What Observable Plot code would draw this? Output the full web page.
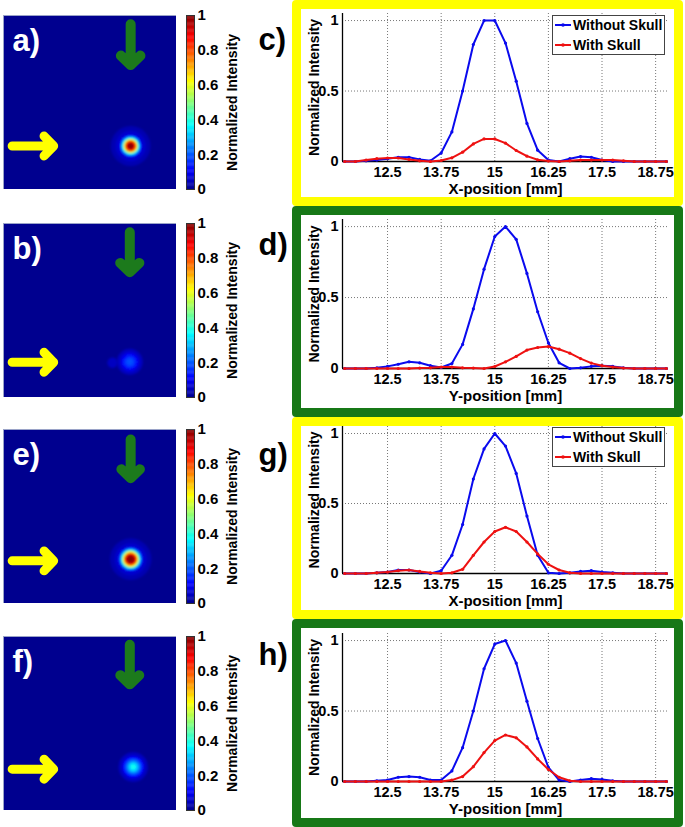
<!DOCTYPE html>
<html><head><meta charset="utf-8">
<script src="https://cdn.jsdelivr.net/npm/d3@7"></script>
<script src="https://cdn.jsdelivr.net/npm/@observablehq/plot@0.6"></script>
<style>
body{margin:0;background:#fff;font-family:"Liberation Sans",Arial,sans-serif;}
#root{position:relative;width:685px;height:827px;overflow:hidden;background:#fff;}
.frame{position:absolute;box-sizing:border-box;border-radius:4px;pointer-events:none;z-index:5;}
.legend{position:absolute;box-sizing:border-box;background:#fff;border:1px solid #444;font:bold 14px "Liberation Sans",Arial,sans-serif;z-index:6;}
</style></head><body><div id="root"></div><script>
// ---------- data ----------
const positions = [11.5,11.75,12,12.25,12.5,12.75,13,13.25,13.5,13.75,14,14.25,14.5,14.75,15,15.25,15.5,15.75,16,16.25,16.5,16.75,17,17.25,17.5,17.75,18,18.25,18.5,18.75,19];
const xTicks = [12.5, 13.75, 15, 16.25, 17.5, 18.75];
const yTicks = [0, 0.5, 1];
const colorbarTicks = [0, 0.2, 0.4, 0.6, 0.8, 1];
const seriesNames = ["Without Skull", "With Skull"];
const seriesColors = ["#0a0aee", "#ee1111"];

const cWithout = [0,0,0.005,0.01,0.02,0.03,0.03,0.015,0.005,0.06,0.21,0.50,0.83,1.0,1.0,0.84,0.57,0.27,0.08,0.01,0,0.02,0.035,0.03,0.01,0,0,0,0,0,0];
const cWith    = [0,0,0.01,0.02,0.025,0.025,0.015,0.005,0,0.007,0.026,0.066,0.125,0.16,0.16,0.13,0.078,0.038,0.012,0.003,0,0.005,0.01,0.01,0.01,0.01,0.005,0,0,0,0];
const dWithout = [0,0,0,0.005,0.015,0.03,0.047,0.04,0.02,0.007,0.035,0.17,0.42,0.70,0.93,1.0,0.91,0.67,0.40,0.18,0.04,0,0.005,0.015,0.02,0.015,0.005,0,0,0,0];
const dWith    = [0,0,0,0,0,0,0,0.003,0.005,0.01,0.01,0.005,0.003,0,0.014,0.047,0.085,0.13,0.148,0.155,0.136,0.108,0.07,0.038,0.02,0.01,0.003,0,0,0,0];
const gWithout = [0,0,0,0.005,0.01,0.025,0.025,0.01,0,0.02,0.13,0.35,0.675,0.89,1.0,0.91,0.715,0.41,0.13,0.005,0,0.005,0.015,0.02,0.01,0.005,0,0,0,0,0];
const gWith    = [0,0,0,0.005,0.01,0.02,0.025,0.015,0.005,0,0.005,0.03,0.13,0.225,0.30,0.33,0.30,0.225,0.14,0.066,0.025,0.005,0,0,0,0,0,0,0,0,0];
const hWithout = [0,0,0,0.005,0.01,0.03,0.035,0.03,0.01,0.01,0.075,0.24,0.50,0.80,0.975,1.0,0.84,0.57,0.305,0.10,0.01,0,0.01,0.02,0.015,0.005,0,0,0,0,0];
const hWith    = [0,0,0,0,0,0,0,0,0,0,0.01,0.035,0.105,0.205,0.29,0.33,0.31,0.245,0.16,0.085,0.03,0.005,0,0,0,0,0,0,0,0,0];

// heat-map spots: centre (mm) and radial intensity profile (radius mm, value)
const spotA = {x: 14.7, y: 15.0, rings: [[2.3,0.035],[1.75,0.06],[1.3,0.14],[1.1,0.3],[0.95,0.42],[0.82,0.6],[0.7,0.75],[0.55,0.88],[0.4,0.96],[0.22,1.0]]};
const spotB = {x: 14.6, y: 15.9, rings: [[1.5,0.05],[1.1,0.09],[0.85,0.13],[0.6,0.17],[0.35,0.19]]};
const spotBFaint = {x: 12.6, y: 16.0, rings: [[0.6,0.05]]};
const spotE = {x: 14.7, y: 14.9, rings: [[2.4,0.035],[1.85,0.06],[1.4,0.15],[1.2,0.3],[1.05,0.45],[0.9,0.62],[0.77,0.78],[0.62,0.9],[0.46,0.97],[0.28,1.0]]};
const spotF = {x: 15.0, y: 15.0, rings: [[1.7,0.05],[1.25,0.12],[0.95,0.2],[0.7,0.27],[0.48,0.33],[0.28,0.38]]};

// arrows (mm, image 20 x 20 mm, y measured from the top)
const arrowsA = {green: [14.7, 1.0, 5.7], yellow: [15.0, 1.0, 5.8]};
const arrowsB = {green: [14.6, 1.0, 5.6], yellow: [15.95, 1.0, 5.8]};
const arrowsE = {green: [14.7, 1.15, 5.6], yellow: [15.1, 1.0, 5.8]};
const arrowsF = {green: [14.6, 0.95, 5.5], yellow: [15.25, 1.0, 5.8]};

const heatLabels = ["a)", "b)", "e)", "f)"];
const profileLabels = ["c)", "d)", "g)", "h)"];
const xAxisLabels = ["X-position [mm]", "Y-position [mm]", "X-position [mm]", "Y-position [mm]"];
const yAxisLabel = "Normalized Intensity";
const colorbarLabel = "Normalized Intensity";

// MATLAB jet colormap
const jetStops = [0, 0.111, 0.365, 0.619, 0.873, 1];
const jetColors = ["#00008f", "#0000ff", "#00ffff", "#ffff00", "#ff0000", "#800000"];

// ---------- layout ----------
const root = document.getElementById("root");
const FONT = "'Liberation Sans', Arial, sans-serif";
function place(el, left, top, z) {
  el.style.position = "absolute"; el.style.left = left + "px"; el.style.top = top + "px";
  if (z) el.style.zIndex = z;
  root.appendChild(el);
}

function heatmap(spots, arrows, label) {
  const svg = Plot.plot({
    width: 173, height: 174, margin: 0,
    x: {domain: [0, 20], axis: null},
    y: {domain: [0, 20], reverse: true, axis: null},
    r: {type: "linear", domain: [0, 20], range: [0, 173]},
    color: {type: "linear", domain: jetStops, range: jetColors, clamp: true},
    style: {background: "transparent", fontFamily: FONT},
    marks: [
      Plot.frame({fill: jetColors[0]}),
      ...spots.map(s => Plot.dot(s.rings.map(([r, v]) => ({x: s.x, y: s.y, r, v})), {x: "x", y: "y", r: "r", fill: "v", stroke: null})),
      Plot.arrow([{x: arrows.green[0], y1: arrows.green[1], y2: arrows.green[2]}], {x1: "x", x2: "x", y1: "y1", y2: "y2", stroke: "#1c7a1c", strokeWidth: 10, headLength: 3.0, headAngle: 92, strokeLinecap: "round", strokeLinejoin: "miter"}),
      Plot.arrow([{y: arrows.yellow[0], x1: arrows.yellow[1], x2: arrows.yellow[2]}], {y1: "y", y2: "y", x1: "x1", x2: "x2", stroke: "#ffff00", strokeWidth: 9, headLength: 3.0, headAngle: 92, strokeLinecap: "round", strokeLinejoin: "miter"}),
      Plot.text([label], {text: d => d, frameAnchor: "top-left", dx: 9, dy: 13, fill: "white", fontSize: 31, fontWeight: "bold", textAnchor: "start", lineAnchor: "top"}),
      Plot.frame({stroke: "#9aa3c8", strokeWidth: 1})
    ]
  });
  // soften the spot like the smoothed image
  const ns = "http://www.w3.org/2000/svg";
  const id = "blur" + Math.random().toString(36).slice(2);
  const defs = document.createElementNS(ns, "defs");
  const f = document.createElementNS(ns, "filter");
  f.setAttribute("id", id); f.setAttribute("x", "-50%"); f.setAttribute("y", "-50%"); f.setAttribute("width", "200%"); f.setAttribute("height", "200%");
  const b = document.createElementNS(ns, "feGaussianBlur"); b.setAttribute("stdDeviation", "1.1");
  f.appendChild(b); defs.appendChild(f); svg.prepend(defs);
  svg.querySelectorAll('g[aria-label="dot"]').forEach(g => g.setAttribute("filter", `url(#${id})`));
  return svg;
}

function colorbar(label, labelDy) {
  const levels = d3.range(0, 1, 0.005);
  return Plot.plot({
    width: 104, height: 194, marginLeft: 0, marginRight: 96, marginTop: 10, marginBottom: 10,
    x: {domain: [0, 1], axis: null},
    y: {domain: [0, 1], axis: "right", ticks: colorbarTicks, tickFormat: d => String(d), tickSize: 0, tickPadding: 3, label: null},
    color: {type: "linear", domain: jetStops, range: jetColors, clamp: true},
    style: {background: "transparent", fontFamily: FONT, fontSize: "15px", fontWeight: "bold", color: "#000"},
    marks: [
      Plot.rect(levels, {x1: 0, x2: 1, y1: d => d, y2: d => Math.min(1, d + 0.007), fill: d => d + 0.0025}),
      Plot.frame({stroke: "#333", strokeWidth: 1}),
      Plot.text([colorbarLabel], {text: d => d, frameAnchor: "right", dx: 38, rotate: -90, fontSize: 14, fontWeight: "bold", textAnchor: "middle", lineAnchor: "middle"}),
      Plot.text([label], {text: d => d, frameAnchor: "top-right", dx: 64, dy: labelDy, fontSize: 31, fontWeight: "bold", textAnchor: "start", lineAnchor: "top", fill: "#000"})
    ]
  });
}

function profile(without, withS, xLabel, H, mT, mB) {
  const rowsA = positions.map((x, i) => ({x, y: without[i]}));
  const rowsB = positions.map((x, i) => ({x, y: withS[i]}));
  return Plot.plot({
    width: 391, height: H, marginLeft: 50, marginRight: 15, marginTop: mT, marginBottom: mB,
    x: {domain: [11.45, 19.05], ticks: xTicks, tickFormat: d => String(d), tickSize: 0, tickPadding: 5, label: null},
    y: {domain: [0, 1.05], ticks: yTicks, tickFormat: d => String(d), tickSize: 0, tickPadding: 4, label: null},
    style: {background: "transparent", fontFamily: FONT, fontSize: "14.5px", fontWeight: "bold", color: "#000"},
    marks: [
      Plot.ruleX(xTicks, {stroke: "#777", strokeOpacity: 1, strokeWidth: 1, strokeDasharray: "1,2"}),
      Plot.ruleY([0.5, 1], {stroke: "#777", strokeOpacity: 1, strokeWidth: 1, strokeDasharray: "1,2"}),
      Plot.ruleX([11.45], {y1: 0, y2: 1.05, stroke: "#000", strokeWidth: 1.3}),
      Plot.ruleY([0], {stroke: "#000", strokeWidth: 1.6}),
      Plot.line(rowsA, {x: "x", y: "y", stroke: seriesColors[0], strokeWidth: 2}),
      Plot.dot(rowsA, {x: "x", y: "y", r: 1.6, fill: seriesColors[0], stroke: null}),
      Plot.line(rowsB, {x: "x", y: "y", stroke: seriesColors[1], strokeWidth: 2}),
      Plot.dot(rowsB, {x: "x", y: "y", r: 1.6, fill: seriesColors[1], stroke: null}),
      Plot.text([yAxisLabel], {text: d => d, frameAnchor: "left", dx: -28, rotate: -90, fontSize: 14, fontWeight: "bold", textAnchor: "middle", lineAnchor: "middle"}),
      Plot.text([xLabel], {text: d => d, frameAnchor: "bottom", dy: 28, fontSize: 15, fontWeight: "bold", textAnchor: "middle", lineAnchor: "middle"})
    ]
  });
}

function legend(left, top) {
  const div = document.createElement("div");
  div.className = "legend";
  div.style.width = "113px"; div.style.height = "40px";
  let html = "";
  seriesNames.forEach((name, i) => {
    const cy = i === 0 ? 9 : 29;
    html += `<svg style="position:absolute;left:2px;top:${cy - 5}px" width="16" height="10"><line x1="0" y1="5" x2="16" y2="5" stroke="${seriesColors[i]}" stroke-width="2"/><circle cx="8" cy="5" r="1.8" fill="${seriesColors[i]}"/></svg>`;
    html += `<div style="position:absolute;left:20px;top:${cy - 8}px;line-height:16px;white-space:nowrap">${name}</div>`;
  });
  div.innerHTML = html;
  place(div, left, top, 6);
}

function frame(top, height, color) {
  const d = document.createElement("div");
  d.className = "frame";
  d.style.width = "391px"; d.style.height = height + "px";
  d.style.border = `9px solid ${color}`;
  place(d, 292, top, 5);
}

// left column
const heatTops = [15, 223, 429, 636];
const heatSpots = [[spotA], [spotBFaint, spotB], [spotE], [spotF]];
const heatArrows = [arrowsA, arrowsB, arrowsE, arrowsF];
const labelDys = [12, 9, 13, 6];
heatTops.forEach((t, i) => {
  place(heatmap(heatSpots[i], heatArrows[i], heatLabels[i]), 3, t, 1);
  place(colorbar(profileLabels[i], labelDys[i]), 186, t - 10, 1);
});

// right column
const YELLOW = "#ffff00", GREEN = "#177817";
const frames = [
  {top: 0,   h: 206, color: YELLOW, w: cWithout, s: cWith, mT: 13, mB: 45, legend: 15},
  {top: 206, h: 211, color: GREEN,  w: dWithout, s: dWith, mT: 13, mB: 49},
  {top: 417, h: 202, color: YELLOW, w: gWithout, s: gWith, mT: 9,  mB: 46, legend: 427},
  {top: 619, h: 208, color: GREEN,  w: hWithout, s: hWith, mT: 14, mB: 46}
];
frames.forEach((f, i) => {
  place(profile(f.w, f.s, xAxisLabels[i], f.h, f.mT, f.mB), 292, f.top, 2);
  frame(f.top, f.h, f.color);
  if (f.legend !== undefined) legend(552, f.legend);
});
</script></body></html>
